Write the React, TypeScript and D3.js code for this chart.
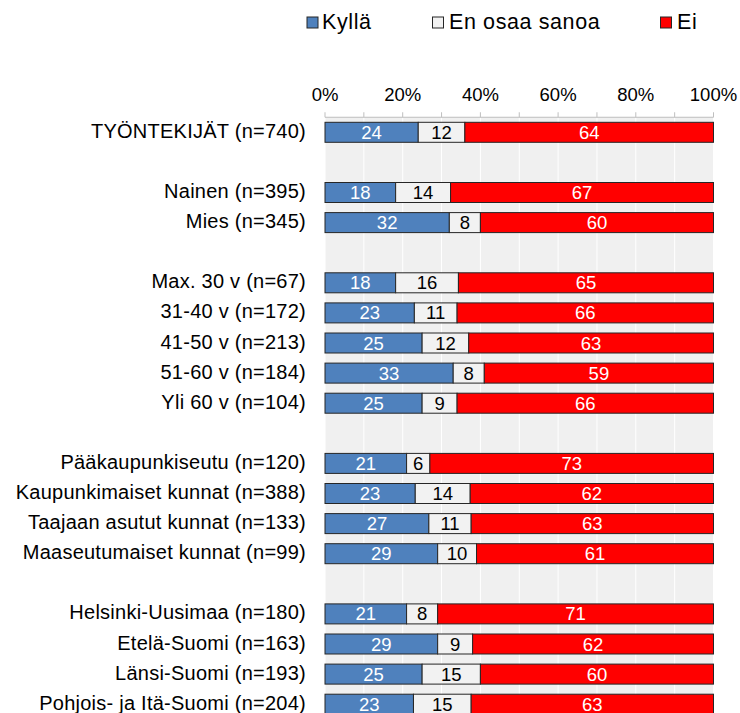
import React from "react";
import * as d3 from "d3";

const categories = [
  "TYÖNTEKIJÄT (n=740)",
  "",
  "Nainen (n=395)",
  "Mies (n=345)",
  " ",
  "Max. 30 v (n=67)",
  "31-40 v (n=172)",
  "41-50 v (n=213)",
  "51-60 v (n=184)",
  "Yli 60 v (n=104)",
  "  ",
  "Pääkaupunkiseutu (n=120)",
  "Kaupunkimaiset kunnat (n=388)",
  "Taajaan asutut kunnat (n=133)",
  "Maaseutumaiset kunnat (n=99)",
  "   ",
  "Helsinki-Uusimaa (n=180)",
  "Etelä-Suomi (n=163)",
  "Länsi-Suomi (n=193)",
  "Pohjois- ja Itä-Suomi (n=204)",
];

const kylla = [24, null, 18, 32, null, 18, 23, 25, 33, 25, null, 21, 23, 27, 29, null, 21, 29, 25, 23];
const eos = [12, null, 14, 8, null, 16, 11, 12, 8, 9, null, 6, 14, 11, 10, null, 8, 9, 15, 15];
const ei = [64, null, 67, 60, null, 65, 66, 63, 59, 66, null, 73, 62, 63, 61, null, 71, 62, 60, 63];

const seriesNames = ["Kyllä", "En osaa sanoa", "Ei"];
const seriesColors = ["#4F81BD", "#F2F2F2", "#FF0000"];
const labelColors = ["#FFFFFF", "#000000", "#FFFFFF"];
const tickValues = [0, 20, 40, 60, 80, 100];

const FONT = "'Liberation Sans', Arial, sans-serif";

export default function App() {
  const W = 740;
  const H = 713;
  const x0 = 325;
  const x1 = 713.5;
  const top = 117.25;
  const step = 30.1;

  const x = d3.scaleLinear().domain([0, 100]).range([x0, x1]);
  const y = d3
    .scaleBand<string>()
    .domain(categories)
    .range([top, top + step * categories.length])
    .paddingInner(0)
    .paddingOuter(0);
  const barH = 20;

  const rows = categories.map((c, i) => {
    const vals = [kylla[i], eos[i], ei[i]];
    if (vals[0] == null) return null;
    const nums = vals as number[];
    const total = d3.sum(nums);
    const stack = d3.cumsum(nums).map((v) => (v / total) * 100);
    const segs = nums.map((v, k) => ({
      v,
      k,
      start: k === 0 ? 0 : stack[k - 1],
      end: stack[k],
    }));
    return { c, segs };
  });

  const minorTicks = d3.range(0, 101, 10);

  const legendItems = [
    { mx: 307, tx: 322 },
    { mx: 432.5, tx: 449 },
    { mx: 660.5, tx: 677 },
  ];

  return (
    <svg
      width={W}
      height={H}
      style={{ position: "absolute", left: 0, top: 0 }}
      fontFamily={FONT}
    >
      <rect x={0} y={0} width={W} height={H} fill="#FFFFFF" />
      {/* Legend */}
      {seriesNames.map((s, k) => (
        <g key={s}>
          <rect
            x={legendItems[k].mx}
            y={17}
            width={11}
            height={11}
            fill={seriesColors[k]}
            stroke="#262626"
            strokeWidth={1}
          />
          <text
            x={legendItems[k].tx}
            y={28.5}
            fontSize={21.5}
            letterSpacing={0.6}
            fill="#000"
          >
            {s}
          </text>
        </g>
      ))}

      {/* Plot background */}
      <rect x={x0} y={top} width={x1 - x0} height={H - top} fill="#F0F0F0" />
      {minorTicks.map((t) => (
        <line
          key={"g" + t}
          x1={x(t)}
          x2={x(t)}
          y1={top}
          y2={H}
          stroke="#FFFFFF"
          strokeWidth={1}
        />
      ))}

      {/* Top axis */}
      <line x1={x0} x2={x1} y1={top} y2={top} stroke="#BFBFBF" strokeWidth={1} />
      {minorTicks.map((t) => (
        <line
          key={"t" + t}
          x1={x(t)}
          x2={x(t)}
          y1={top - 5}
          y2={top}
          stroke="#BFBFBF"
          strokeWidth={1}
        />
      ))}
      {tickValues.map((t) => (
        <text
          key={"l" + t}
          x={x(t)}
          y={101}
          fontSize={18.5}
          textAnchor="middle"
          fill="#000"
        >
          {t + "%"}
        </text>
      ))}

      {/* Bars */}
      {rows.map((r, i) => {
        if (!r) return null;
        const cy = (y(r.c) as number) + y.bandwidth() / 2;
        return (
          <g key={"r" + i}>
            <text
              x={306}
              y={cy + 5.5}
              fontSize={20}
              letterSpacing={0.25}
              textAnchor="end"
              fill="#000"
            >
              {r.c}
            </text>
            {r.segs.map((s) => (
              <rect
                key={s.k}
                x={x(s.start)}
                y={cy - barH / 2}
                width={x(s.end) - x(s.start)}
                height={barH}
                fill={seriesColors[s.k]}
                stroke="#262626"
                strokeWidth={1}
              />
            ))}
            {r.segs.map((s) => (
              <text
                key={"t" + s.k}
                x={(x(s.start) + x(s.end)) / 2}
                y={cy + 6.5}
                fontSize={18.5}
                textAnchor="middle"
                fill={labelColors[s.k]}
              >
                {s.v}
              </text>
            ))}
          </g>
        );
      })}
    </svg>
  );
}
